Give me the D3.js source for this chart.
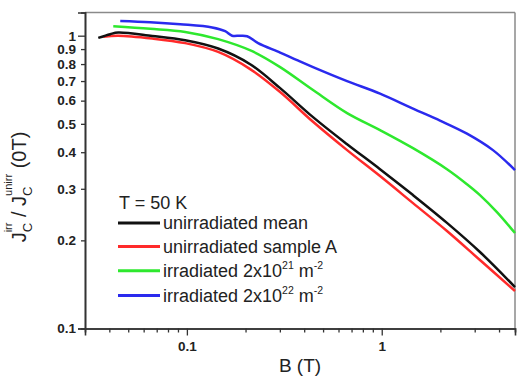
<!DOCTYPE html>
<html>
<head>
<meta charset="utf-8">
<script src="https://cdn.jsdelivr.net/npm/d3@7"></script>
<style>
  html, body { margin: 0; padding: 0; background: #fff; }
  svg { display: block; }
  text { font-family: "Liberation Sans", Arial, Helvetica, sans-serif; fill: #222; }
</style>
</head>
<body>
<svg id="chart" width="517" height="376"></svg>
<script>
// Critical current ratio Jc(irr)/Jc(unirr, 0T) versus field B at T = 50 K
const blackB = [0.0351, 0.0404, 0.0444, 0.0664, 0.098, 0.1447, 0.2112, 0.301, 0.444, 0.664, 0.980, 1.447, 2.162, 3.192, 4.83];
const blackJ = [0.983, 1.012, 1.025, 0.998, 0.965, 0.904, 0.799, 0.662, 0.527, 0.426, 0.350, 0.2855, 0.2295, 0.1825, 0.1385];

const redB = [0.0372, 0.0444, 0.0664, 0.098, 0.1447, 0.2112, 0.301, 0.444, 0.664, 0.980, 1.447, 2.162, 3.192, 4.83];
const redJ = [0.992, 1.0, 0.978, 0.943, 0.880, 0.769, 0.642, 0.508, 0.4066, 0.3315, 0.268, 0.2152, 0.1713, 0.1343];

const greenB = [0.0419, 0.0648, 0.098, 0.1447, 0.2163, 0.301, 0.444, 0.664, 0.980, 1.447, 2.162, 2.738, 3.192, 3.902, 4.83];
const greenJ = [1.077, 1.056, 1.030, 0.973, 0.885, 0.781, 0.652, 0.544, 0.476, 0.413, 0.350, 0.311, 0.2855, 0.2497, 0.2118];

const blueB = [0.0455, 0.0648, 0.0924, 0.1348, 0.1572, 0.1707, 0.1876, 0.2038, 0.232, 0.301, 0.3677, 0.444, 0.664, 0.980, 1.447, 1.991, 2.738, 3.722, 4.83];
const blueJ = [1.123, 1.112, 1.094, 1.067, 1.036, 1.0, 1.0, 0.996, 0.943, 0.876, 0.825, 0.781, 0.6995, 0.634, 0.5634, 0.5128, 0.4628, 0.4066, 0.3475];

const seriesNames = ["unirradiated mean", "unirradiated sample A", "irradiated 2x10", "irradiated 2x10"];
const seriesColors = ["#111111", "#ff2a2a", "#2ee82e", "#2a2aee"];
const fluenceExp = [null, null, "21", "22"];

const xMajor = [0.1, 1];
const xMinor = [0.04, 0.05, 0.06, 0.07, 0.08, 0.09, 0.2, 0.3, 0.4, 0.5, 0.6, 0.7, 0.8, 0.9, 2, 3, 4];
const yMajor = [0.1, 1];
const yMinor = [0.2, 0.3, 0.4, 0.5, 0.6, 0.7, 0.8, 0.9];

const svg = d3.select("#chart");
const L = 85, R = 515, T = 12.5, B = 328.5;

const x = d3.scaleLog().domain([0.03, 4.83]).range([L, R]);
const y = d3.scaleLog().domain([0.1, 1.2]).range([B, T]);

// frame: top and right edges
svg.append("line").attr("x1", L).attr("x2", R).attr("y1", T).attr("y2", T)
  .attr("stroke", "#8a8a8a").attr("stroke-width", 1.5);
svg.append("line").attr("x1", R).attr("x2", R).attr("y1", T).attr("y2", B)
  .attr("stroke", "#8a8a8a").attr("stroke-width", 1.5);

const fmt = d => String(d);

function styleAxis(g) {
  g.select(".domain").attr("stroke", "#333").attr("stroke-width", 1.6);
  g.selectAll(".tick line").attr("stroke", "#333").attr("stroke-width", 1.3);
  g.selectAll(".tick text")
    .style("font-family", '"Liberation Sans", Arial, sans-serif')
    .style("font-weight", "bold").style("font-size", "13.5px").attr("fill", "#333");
}

// bottom axis: minor then major ticks
svg.append("g").attr("transform", `translate(0,${B})`)
  .call(d3.axisBottom(x).tickValues(xMinor).tickSize(4).tickFormat(""))
  .call(styleAxis);
svg.append("g").attr("transform", `translate(0,${B})`)
  .call(d3.axisBottom(x).tickValues(xMajor).tickSize(7).tickPadding(6).tickFormat(fmt))
  .call(styleAxis);

// left axis
svg.append("g").attr("transform", `translate(${L},0)`)
  .call(d3.axisLeft(y).tickValues(yMinor).tickSize(4).tickPadding(5).tickFormat(fmt))
  .call(styleAxis);
svg.append("g").attr("transform", `translate(${L},0)`)
  .call(d3.axisLeft(y).tickValues(yMajor).tickSize(7).tickPadding(2).tickFormat(fmt))
  .call(styleAxis);

// curves
const line = d3.line().x(d => x(d[0])).y(d => y(d[1])).curve(d3.curveCatmullRom.alpha(0.5));
const series = [
  d3.zip(blackB, blackJ),
  d3.zip(redB, redJ),
  d3.zip(greenB, greenJ),
  d3.zip(blueB, blueJ)
];
const drawOrder = [2, 3, 1, 0];
const plot = svg.append("g");
drawOrder.forEach(i => {
  plot.append("path").datum(series[i])
    .attr("d", line)
    .attr("fill", "none")
    .attr("stroke", seriesColors[i])
    .attr("stroke-width", 2.5)
    .attr("stroke-linejoin", "round");
});

// axis title x
svg.append("text").attr("x", (L + R) / 2).attr("y", 372)
  .attr("text-anchor", "middle").style("font-size", "19px").text("B (T)");

// axis title y (rotated, built from pieces so sub/superscripts stack)
const yt = svg.append("g");
const parts = [
  { t: "J", size: 20, dy: 0 },
  { t: "C", size: 13, dy: 5.5, stackWithNext: true },
  { t: "irr", size: 11, dy: -14 },
  { t: " / ", size: 20, dy: 0 },
  { t: "J", size: 20, dy: 0 },
  { t: "C", size: 13, dy: 5.5, stackWithNext: true },
  { t: "unirr", size: 11, dy: -14 },
  { t: " (0T)", size: 20, dy: 0 }
];
let cx = 0, stackStart = null, stackW = 0;
parts.forEach(p => {
  const node = yt.append("text").attr("y", p.dy).style("font-size", p.size + "px")
    .style("white-space", "pre").attr("xml:space", "preserve").text(p.t);
  const w = node.node().getComputedTextLength();
  if (p.stackWithNext) {
    stackStart = cx; stackW = w;
    node.attr("x", cx);
  } else if (stackStart !== null) {
    node.attr("x", stackStart);
    cx = stackStart + Math.max(w, stackW);
    stackStart = null;
  } else {
    node.attr("x", cx);
    cx += w;
  }
});
// centre the title along the axis
const center = 187;
yt.attr("transform", `translate(26,${center + cx / 2}) rotate(-90)`);

// legend
const lg = svg.append("g");
lg.append("text").attr("x", 119).attr("y", 208.5).style("font-size", "18px").text("T = 50 K");
const rowY = [223, 246.5, 270.7, 295.5];
seriesNames.forEach((name, i) => {
  lg.append("line").attr("x1", 118).attr("x2", 160).attr("y1", rowY[i]).attr("y2", rowY[i])
    .attr("stroke", seriesColors[i]).attr("stroke-width", 3);
  const t = lg.append("text").attr("x", 163).attr("y", rowY[i] + 6)
    .style("font-size", "18px").attr("xml:space", "preserve");
  t.append("tspan").text(name);
  if (fluenceExp[i]) {
    t.append("tspan").attr("dy", -8).style("font-size", "10.5px").text(fluenceExp[i]);
    t.append("tspan").attr("dy", 8).text(" m");
    t.append("tspan").attr("dy", -8).style("font-size", "10.5px").text("-2");
  }
});
</script>
</body>
</html>
